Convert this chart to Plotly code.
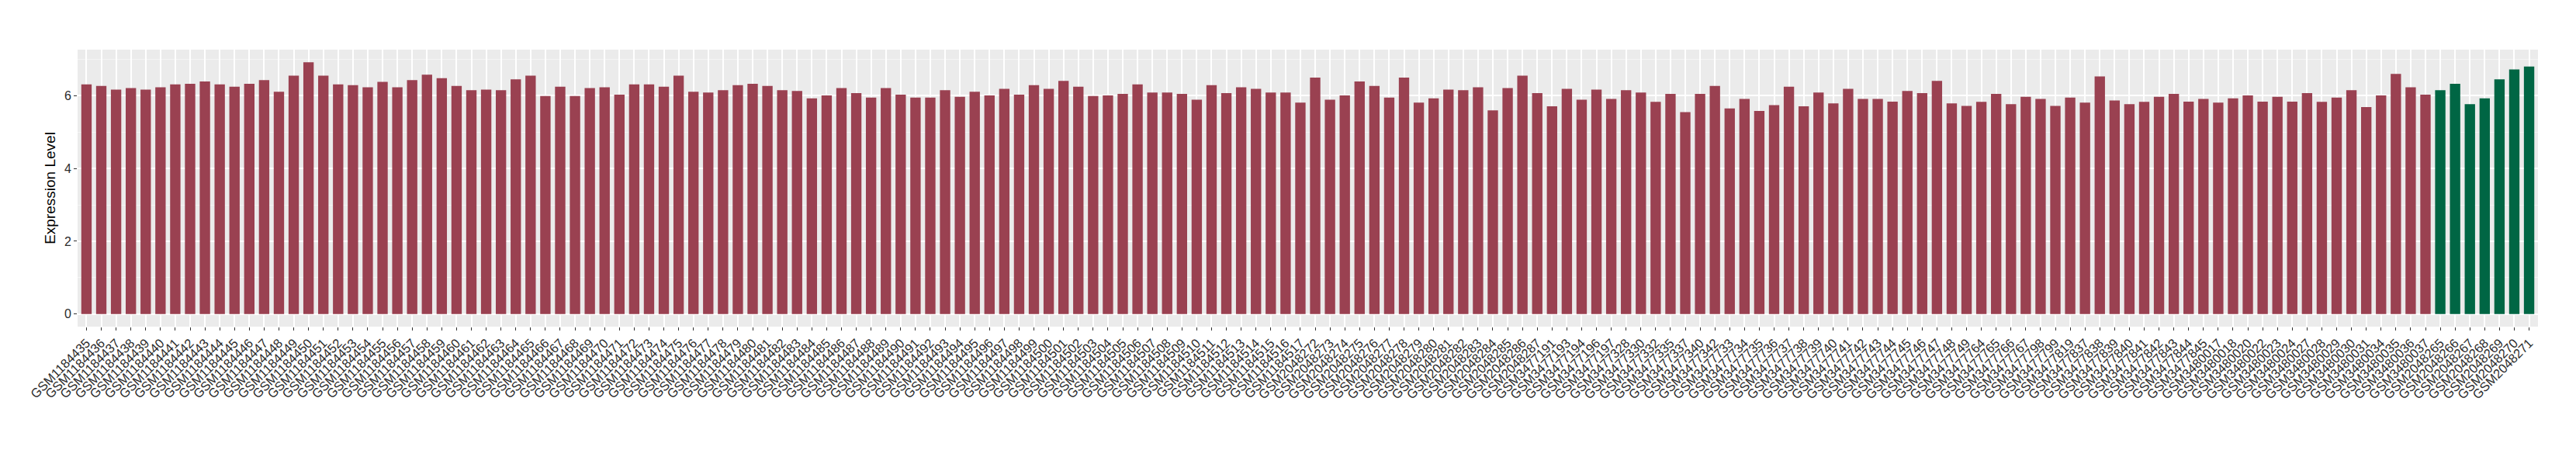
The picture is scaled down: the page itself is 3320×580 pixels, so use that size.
import plotly.graph_objects as go

# -- sample names (x categories), in plot order
samples_a = ['GSM1184%d' % n for n in range(435, 518)]
samples_b = ['GSM2048%d' % n for n in range(272, 288)]
samples_c = ['GSM3477191', 'GSM3477193', 'GSM3477194', 'GSM3477196', 'GSM3477197',
             'GSM3477328', 'GSM3477330', 'GSM3477332', 'GSM3477335', 'GSM3477337',
             'GSM3477340', 'GSM3477342']
samples_d = ['GSM3477%d' % n for n in range(733, 750)] + \
            ['GSM3477764', 'GSM3477765', 'GSM3477766', 'GSM3477767',
             'GSM3477798', 'GSM3477799', 'GSM3477819'] + \
            ['GSM3477%d' % n for n in range(837, 846)]
samples_e = ['GSM3480017', 'GSM3480018', 'GSM3480020', 'GSM3480022', 'GSM3480023',
             'GSM3480024', 'GSM3480027', 'GSM3480028', 'GSM3480029', 'GSM3480030',
             'GSM3480031', 'GSM3480034', 'GSM3480035', 'GSM3480036', 'GSM3480037']
samples_green = ['GSM2048%d' % n for n in range(265, 272)]

samples_red = samples_a + samples_b + samples_c + samples_d + samples_e

# -- expression values
values_a = [6.31, 6.27, 6.17, 6.21, 6.17, 6.23, 6.31, 6.33, 6.39, 6.31,
            6.25, 6.33, 6.43, 6.11, 6.55, 6.92, 6.55, 6.31, 6.29, 6.23,
            6.38, 6.23, 6.43, 6.58, 6.48, 6.27, 6.15, 6.17, 6.15, 6.45,
            6.55, 5.99, 6.25, 5.99, 6.21, 6.23, 6.03, 6.31, 6.31, 6.25,
            6.55, 6.11, 6.09, 6.15, 6.29, 6.33, 6.27, 6.15, 6.13, 5.93,
            6.01, 6.21, 6.07, 5.95, 6.21, 6.03, 5.95, 5.95, 6.15, 5.97,
            6.11, 6.01, 6.19, 6.03, 6.29, 6.19, 6.41, 6.25, 5.99, 6.01,
            6.05, 6.31, 6.09, 6.09, 6.05, 5.89, 6.29, 6.07, 6.23, 6.19,
            6.09, 6.09, 5.81]
values_b = [6.50, 5.89, 6.01, 6.39, 6.27, 5.95, 6.50, 5.81, 5.93, 6.17,
            6.15, 6.23, 5.60, 6.21, 6.55, 6.07]
values_c = [5.71, 6.19, 5.89, 6.17, 5.91, 6.15, 6.09, 5.83, 6.05, 5.55,
            6.05, 6.27]
values_d = [5.65, 5.91, 5.58, 5.74, 6.25, 5.71, 6.09, 5.79, 6.19, 5.91,
            5.91, 5.84, 6.13, 6.07, 6.41, 5.79, 5.72, 5.83, 6.05, 5.77,
            5.97, 5.91, 5.72, 5.95, 5.81, 6.53, 5.87, 5.77, 5.83, 5.97,
            6.05, 5.84, 5.91]
values_e = [5.81, 5.93, 6.01, 5.84, 5.97, 5.84, 6.07, 5.83, 5.95, 6.15,
            5.69, 6.01, 6.60, 6.23, 6.03]
values_green = [6.15, 6.33, 5.77, 5.93, 6.45, 6.72, 6.80]

values_red = values_a + values_b + values_c + values_d + values_e
all_samples = samples_red + samples_green

fig = go.Figure()

fig.add_trace(go.Bar(x=samples_red, y=values_red, width=0.7,
                     marker=dict(color='#9A4151', line=dict(width=0)),
                     showlegend=False))
fig.add_trace(go.Bar(x=samples_green, y=values_green, width=0.7,
                     marker=dict(color='#006644', line=dict(width=0)),
                     showlegend=False))

n_cat = len(all_samples)
ymax = max(values_red + values_green)

fig.update_layout(
    width=3320, height=580,
    margin=dict(l=92, r=57, t=56, b=167),
    paper_bgcolor='white', plot_bgcolor='#EBEBEB',
    font=dict(family='Liberation Sans', size=16, color='#333333'),
    bargap=0.3,
)

# every sample label is shown (no auto thinning)
fig.update_xaxes(
    type='category', categoryorder='array', categoryarray=all_samples,
    tickmode='array', tickvals=all_samples, ticktext=all_samples,
    range=[-0.6, n_cat - 0.4],
    tickangle=-45, ticks='outside', ticklen=4, tickcolor='#333333', tickwidth=1,
    showgrid=True, gridcolor='white', gridwidth=1.5,
    tickfont=dict(size=16.5, color='#2b2b2b'),
    showline=False, zeroline=False, automargin=False,
)

fig.update_yaxes(
    range=[-0.05 * ymax, 1.05 * ymax],
    tickvals=[0, 2, 4, 6], ticks='outside', ticklen=4, tickcolor='#333333', tickwidth=1,
    showgrid=True, gridcolor='white', gridwidth=1.5,
    minor=dict(tickvals=[1, 3, 5, 7], showgrid=True, gridcolor='#F5F5F5', gridwidth=1, ticks=''),
    tickfont=dict(size=16, color='#2b2b2b'),
    title=dict(text='Expression Level', font=dict(size=19, color='black'), standoff=6),
    showline=False, zeroline=False, automargin=False,
)

fig.write_html('out.html')
